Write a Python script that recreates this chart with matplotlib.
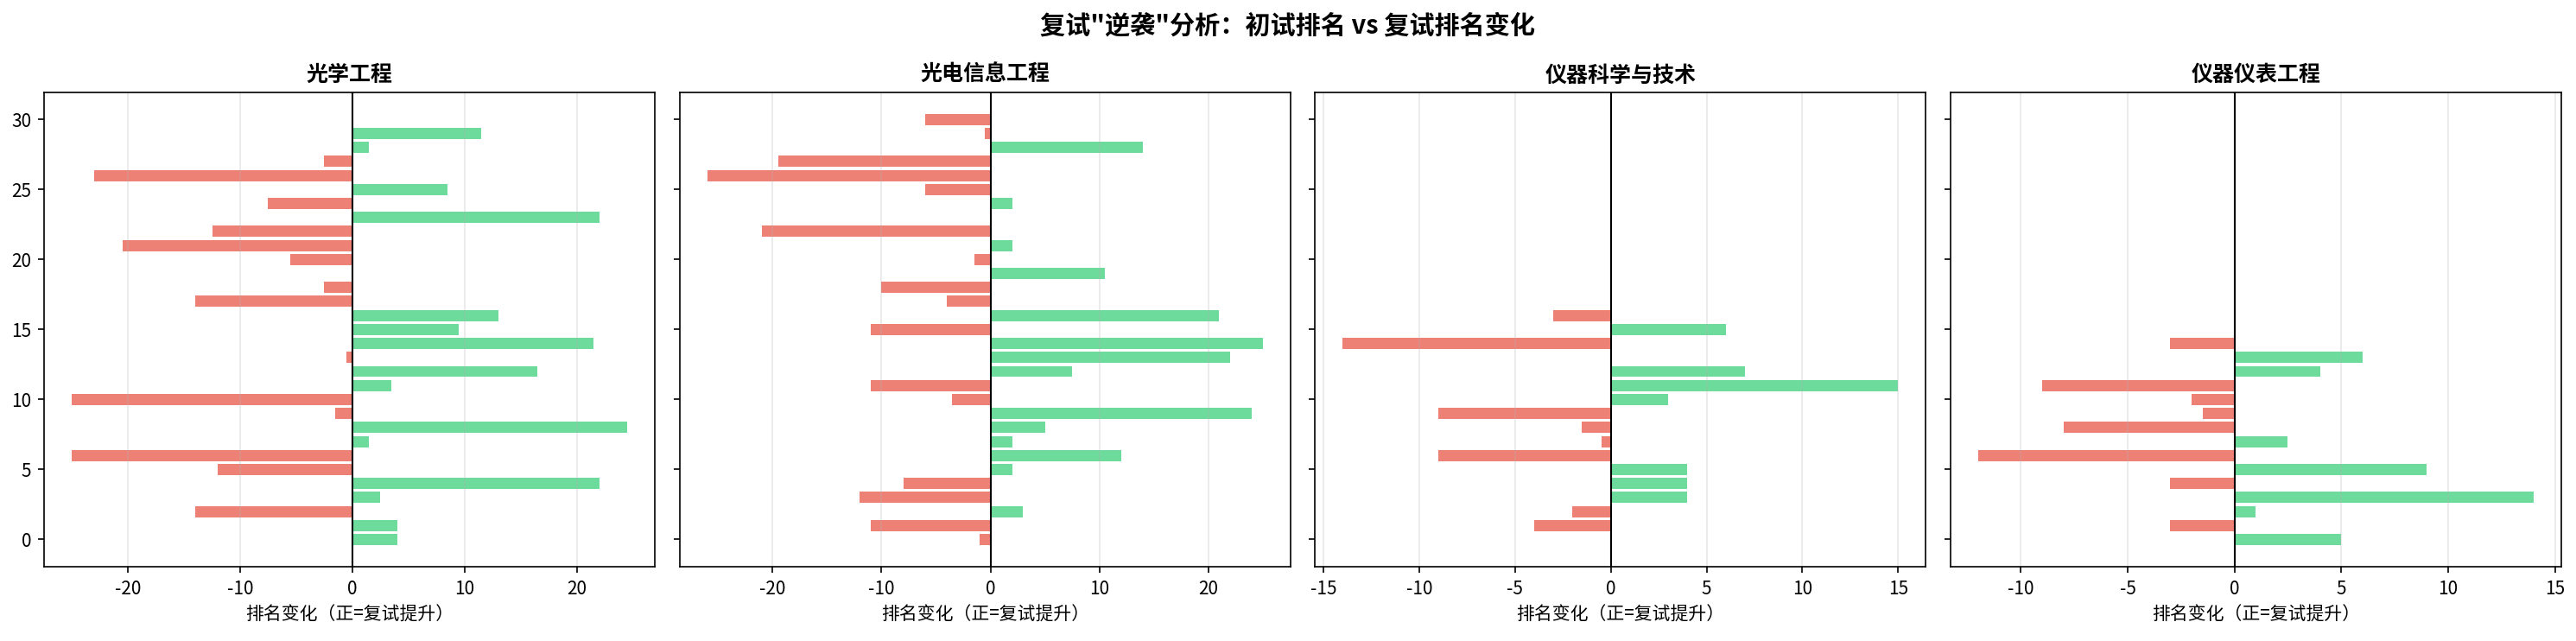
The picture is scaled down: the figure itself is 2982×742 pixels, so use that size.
import matplotlib
matplotlib.use('Agg')
import matplotlib.pyplot as plt
import numpy as np

plt.rcParams['font.family'] = ['Noto Sans CJK SC', 'DejaVu Sans']
plt.rcParams['axes.unicode_minus'] = False

# 各专业：排名变化（正=复试提升），按考生序号排列
majors = ['光学工程', '光电信息工程', '仪器科学与技术', '仪器仪表工程']

change_optics = [4, 4, -14, 2.5, 22, -12, -25, 1.5, 24.5, -1.5,
                 -25, 3.5, 16.5, -0.5, 21.5, 9.5, 13, -14, -2.5, 0,
                 -5.5, -20.5, -12.5, 22, -7.5, 8.5, -23, -2.5, 1.5, 11.5]
change_optoelec = [-1, -11, 3, -12, -8, 2, 12, 2, 5, 24,
                   -3.5, -11, 7.5, 22, 25, -11, 21, -4, -10, 10.5,
                   -1.5, 2, -21, 0, 2, -6, -26, -19.5, 14, -0.5, -6]
change_instr_sci = [0, -4, -2, 4, 4, 4, -9, -0.5, -1.5, -9,
                    3, 15, 7, 0, -14, 6, -3]
change_instr_eng = [5, -3, 1, 14, -3, 9, -12, 2.5, -8, -1.5,
                    -2, -9, 4, 6, -3]

changes = [change_optics, change_optoelec, change_instr_sci, change_instr_eng]

fig, axes = plt.subplots(1, 4, figsize=(2982 / 150, 742 / 150), sharey=True)

for ax, major, vals in zip(axes, majors, changes):
    vals = np.array(vals)
    idx = np.arange(len(vals))
    colors = ['#2ecc71' if v > 0 else '#e74c3c' for v in vals]
    ax.barh(idx, vals, color=colors, alpha=0.7)
    ax.axvline(0, color='black', linewidth=1)
    ax.set_title(major, fontsize=12, fontweight='bold')
    ax.set_xlabel('排名变化（正=复试提升）', fontsize=10)
    ax.grid(axis='x', alpha=0.3)

fig.suptitle('复试"逆袭"分析：初试排名 vs 复试排名变化', fontsize=14, fontweight='bold')
plt.subplots_adjust(left=0.0171, right=0.9943, top=0.856, bottom=0.116, wspace=0.04)
plt.savefig('out.png', dpi=150)
